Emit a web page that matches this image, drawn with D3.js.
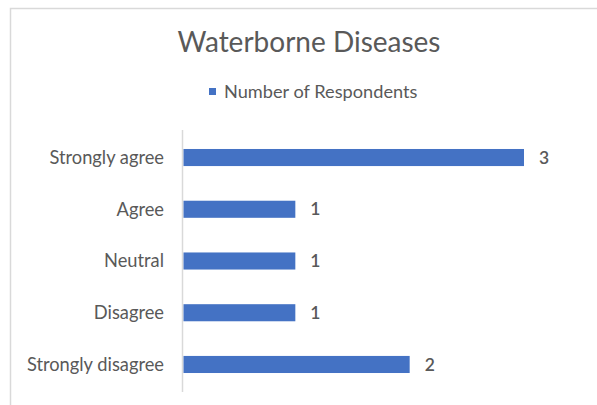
<!DOCTYPE html>
<html><head><meta charset="utf-8">
<script src="https://cdn.jsdelivr.net/npm/d3@7"></script>
<style>html,body{margin:0;padding:0;background:#fff;}</style>
</head><body>
<svg id="c" width="597" height="405"></svg>
<script>
const categories = ["Strongly agree","Agree","Neutral","Disagree","Strongly disagree"];
const values = [3,1,1,1,2];
const seriesName = "Number of Respondents";
const title = "Waterborne Diseases";

const svg = d3.select("#c");
const font = "Lato, sans-serif";
const textColor = "#595959";

// chart border
svg.append("path").attr("d","M10.5,405 L10.5,8.5 L597,8.5").attr("fill","none").attr("stroke","#d9d9d9").attr("stroke-width",1.5);

svg.append("text").attr("x",309).attr("y",52).attr("text-anchor","middle")
  .attr("font-family",font).attr("font-size",28).attr("fill",textColor).text(title);

const lg = svg.append("g");
lg.append("rect").attr("x",209).attr("y",88).attr("width",7).attr("height",7).attr("fill","#4472C4");
lg.append("text").attr("x",224).attr("y",98).attr("font-family",font).attr("font-size",18.2).attr("fill",textColor).text(seriesName);

const x = d3.scaleLinear().domain([0,3]).range([181,524]);
const y = d3.scaleBand().domain(categories).range([130,392]).paddingInner(0.67).paddingOuter(0.367);

svg.append("line").attr("x1",182.5).attr("x2",182.5).attr("y1",130).attr("y2",392).attr("stroke","#d9d9d9").attr("stroke-width",1.5);

svg.selectAll("rect.bar").data(values).join("rect").attr("class","bar")
  .attr("x",x(0)+2.5).attr("y",(d,i)=>y(categories[i])).attr("width",d=>x(d)-x(0)-2.5).attr("height",y.bandwidth())
  .attr("fill","#4472C4");

svg.selectAll("text.cat").data(categories).join("text").attr("class","cat")
  .attr("x",164).attr("y",d=>y(d)+y.bandwidth()/2).attr("dy","0.35em").attr("text-anchor","end")
  .attr("font-family",font).attr("font-size",18.3).attr("fill",textColor).text(d=>d);

svg.selectAll("text.val").data(values).join("text").attr("class","val")
  .attr("x",d=>x(d)+15).attr("y",(d,i)=>y(categories[i])+y.bandwidth()/2).attr("dy","0.35em")
  .attr("font-family",font).attr("font-size",17.5).attr("font-weight",600).attr("fill",textColor).text(d=>d);
</script>
</body></html>
